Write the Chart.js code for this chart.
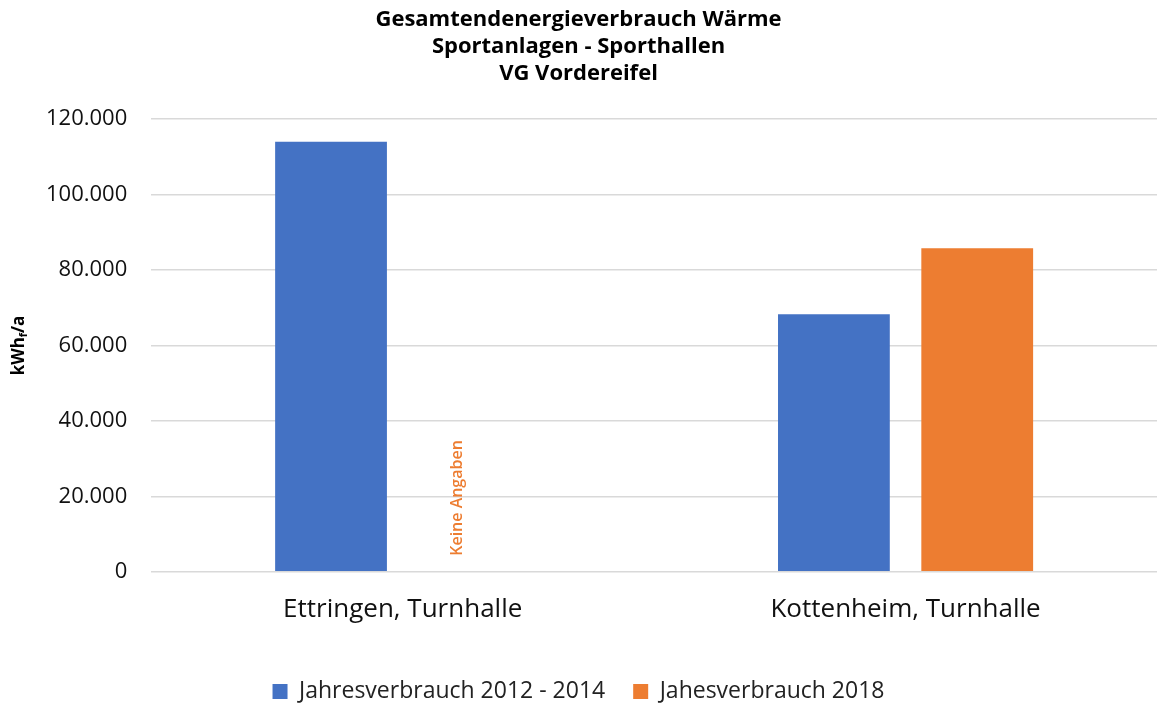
<!DOCTYPE html>
<html>
<head>
<meta charset="utf-8">
<script src="https://cdn.jsdelivr.net/npm/chart.js@4/dist/chart.umd.min.js"></script>
<style>
  html, body { margin: 0; padding: 0; background: #fff; }
  #wrap { width: 1157px; height: 704px; }
</style>
</head>
<body>
<div id="wrap"><canvas id="chart" width="1157" height="704"></canvas></div>
<script>
const categories = ["Ettringen, Turnhalle", "Kottenheim, Turnhalle"];
const seriesNames = ["Jahresverbrauch 2012 - 2014", "Jahesverbrauch 2018"];
const verbrauch2012 = [114000, 68300];
const verbrauch2018 = [null, 85800];
const titleLines = ["Gesamtendenergieverbrauch Wärme", "Sportanlagen - Sporthallen", "VG Vordereifel"];
const noDataText = "Keine Angaben";

const FONT = "'Open Sans', Lato, sans-serif";

// draws the y-axis title (with subscript f) and the "Keine Angaben" note
const extras = {
    id: "extras",
    afterDraw(chart) {
        const ctx = chart.ctx;
        const area = chart.chartArea;
        ctx.save();
        // y axis title
        ctx.translate(19, (area.top + area.bottom) / 2);
        ctx.rotate(-Math.PI / 2);
        ctx.fillStyle = "#000";
        ctx.textBaseline = "middle";
        ctx.font = "bold 17px " + FONT;
        const w1 = ctx.measureText("kWh").width;
        ctx.font = "bold 11px " + FONT;
        const w2 = ctx.measureText("f").width;
        ctx.font = "bold 17px " + FONT;
        const w3 = ctx.measureText("/a").width;
        let x = -(w1 + w2 + w3) / 2;
        ctx.fillText("kWh", x, 0);
        x += w1;
        ctx.font = "bold 11px " + FONT;
        ctx.fillText("f", x, 5);
        x += w2;
        ctx.font = "bold 17px " + FONT;
        ctx.fillText("/a", x, 0);
        ctx.restore();

        // note where the 2018 value is missing
        const meta = chart.getDatasetMeta(1);
        verbrauch2018.forEach((v, i) => {
            if (v !== null) return;
            let bx = meta.data[i] ? meta.data[i].x : NaN;
            if (!isFinite(bx)) bx = chart.scales.x.getPixelForValue(i) + 72;
            ctx.save();
            ctx.translate(bx - 17, area.bottom - 16);
            ctx.rotate(-Math.PI / 2);
            ctx.fillStyle = "#ED7D31";
            ctx.font = "600 16px " + FONT;
            ctx.textAlign = "left";
            ctx.textBaseline = "middle";
            ctx.fillText(noDataText, 0, 0);
            ctx.restore();
        });
    }
};

new Chart(document.getElementById("chart"), {
    type: "bar",
    data: {
        labels: categories,
        datasets: [{
            label: seriesNames[0],
            data: verbrauch2012,
            backgroundColor: "#4472C4",
            categoryPercentage: 0.57,
            barPercentage: 0.78
        }, {
            label: seriesNames[1],
            data: verbrauch2018,
            backgroundColor: "#ED7D31",
            categoryPercentage: 0.57,
            barPercentage: 0.78
        }]
    },
    options: {
        responsive: false,
        animation: false,
        layout: { padding: { left: 0, right: 0, top: 6, bottom: -9 } },
        plugins: {
            title: {
                display: true,
                text: titleLines,
                color: "#000",
                font: { family: FONT, size: 22, weight: "bold", lineHeight: 1.23 },
                padding: { top: 0, bottom: 32 }
            },
            legend: {
                position: "bottom",
                labels: {
                    color: "#222",
                    font: { family: FONT, size: 23 },
                    boxWidth: 15,
                    boxHeight: 15,
                    padding: 28
                }
            },
            tooltip: { enabled: false }
        },
        scales: {
            x: {
                grid: { display: false },
                border: { display: false },
                ticks: {
                    color: "#111",
                    font: { family: FONT, size: 26 },
                    padding: 14
                },
                afterFit: (scale) => { scale.height += 13; }
            },
            y: {
                min: 0,
                max: 120000,
                ticks: {
                    stepSize: 20000,
                    color: "#111",
                    font: { family: FONT, size: 22 },
                    padding: 24,
                    callback: (v) => v.toLocaleString("de-DE")
                },
                grid: { color: "#d9d9d9", lineWidth: 1.5, drawTicks: false },
                border: { display: false },
                afterFit: (scale) => { scale.width += 22; }
            }
        }
    },
    plugins: [extras]
});
</script>
</body>
</html>
